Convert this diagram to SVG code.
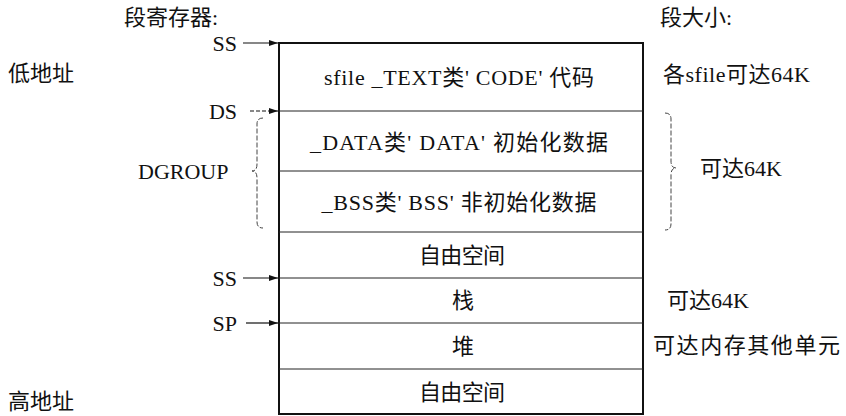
<svg xmlns="http://www.w3.org/2000/svg" width="846" height="416" viewBox="0 0 846 416">
<defs>
<marker id="ah" markerWidth="10" markerHeight="8" refX="9" refY="4" orient="auto" markerUnits="userSpaceOnUse">
<path d="M0,1 L9,4 L0,7 Z" fill="#111"/>
</marker>
<style>
text{font-family:"Liberation Serif","Noto Sans CJK SC",serif;fill:#111;font-size:22px}
.c{text-anchor:middle}
.e{text-anchor:end}
.div{stroke:#222;stroke-width:1;fill:none}
.arr{stroke:#111;stroke-width:1.2;fill:none;marker-end:url(#ah)}
.br{stroke:#444;stroke-width:1;fill:none;stroke-dasharray:5 2}
</style>
</defs>
<rect x="0" y="0" width="846" height="416" fill="#fff"/>

<g id="headers">
<text x="124" y="25">段寄存器:</text>
<text x="660" y="25">段大小:</text>
<text x="8" y="81" font-size="20">低地址</text>
<text x="8" y="409" font-size="20">高地址</text>
</g>

<g id="memory">
<rect x="279" y="43" width="364" height="371" fill="none" stroke="#111" stroke-width="2"/>
<line class="div" x1="279" y1="111" x2="643" y2="111"/>
<line class="div" x1="279" y1="171" x2="643" y2="171"/>
<line class="div" x1="279" y1="232" x2="643" y2="232"/>
<line class="div" x1="279" y1="278" x2="643" y2="278"/>
<line class="div" x1="279" y1="323" x2="643" y2="323"/>
<line class="div" x1="279" y1="369" x2="643" y2="369"/>
</g>

<g id="seg-text"><text class="c" x="459" y="85" textLength="270">sfile _TEXT类' CODE' 代码</text></g>
<g id="seg-data"><text class="c" x="459" y="150" textLength="298">_DATA类' DATA' 初始化数据</text></g>
<g id="seg-bss"><text class="c" x="459" y="210" textLength="275">_BSS类' BSS' 非初始化数据</text></g>
<g id="seg-free1"><text class="c" x="462" y="263" textLength="86">自由空间</text></g>
<g id="seg-stack"><text class="c" x="463" y="308">栈</text></g>
<g id="seg-heap"><text class="c" x="463" y="354">堆</text></g>
<g id="seg-free2"><text class="c" x="462" y="400" textLength="86">自由空间</text></g>

<g id="registers">
<text class="e" x="237" y="51">SS</text>
<text class="e" x="237" y="119">DS</text>
<text class="e" x="237" y="286">SS</text>
<text class="e" x="237" y="331">SP</text>
<text x="138" y="179">DGROUP</text>
</g>

<g id="sizes">
<text x="663" y="82" textLength="147">各sfile可达64K</text>
<text x="700" y="176">可达64K</text>
<text x="667" y="308">可达64K</text>
<text x="653" y="353" textLength="187">可达内存其他单元</text>
</g>

<g id="connectors">
<line class="arr" x1="243" y1="43" x2="278" y2="43"/>
<line class="arr" x1="250" y1="111" x2="278" y2="111" stroke-dasharray="4 2"/>
<line class="arr" x1="243" y1="278" x2="278" y2="278"/>
<line class="arr" x1="246" y1="323" x2="278" y2="323"/>
<path class="br" d="M263,118 Q257,118 257,124 L257,164 Q257,171 252,171 Q257,171 257,178 L257,222 Q257,228 263,228"/>
<path class="br" d="M665,113 Q671,113 671,119 L671,161 Q671,168 676,168 Q671,168 671,175 L671,224 Q671,230 665,230"/>
</g>
</svg>
